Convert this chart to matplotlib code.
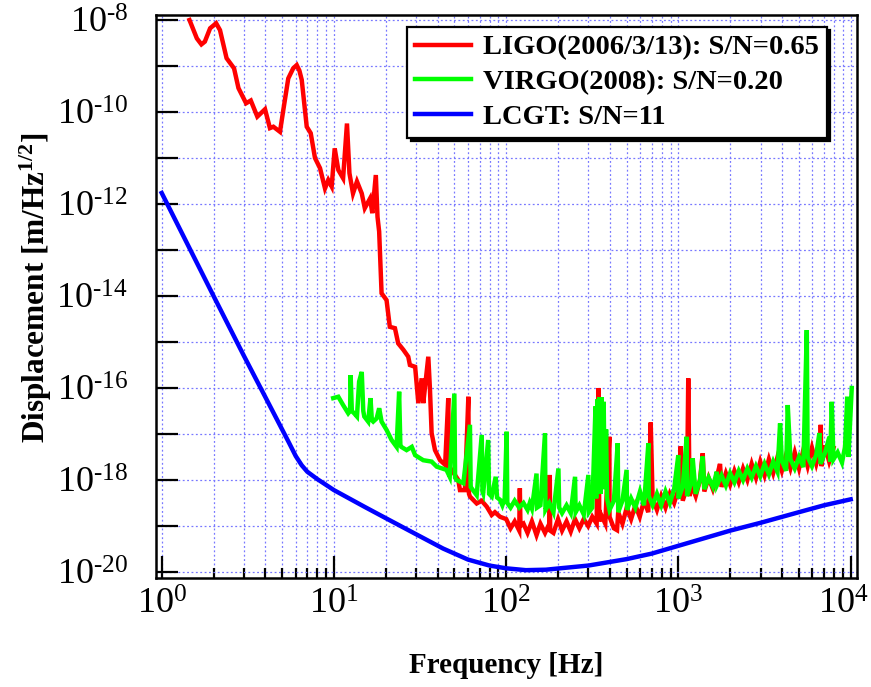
import numpy as np
import matplotlib
matplotlib.use("Agg")
import matplotlib.pyplot as plt
from matplotlib.transforms import ScaledTranslation
from matplotlib.ticker import FixedLocator, FuncFormatter, NullLocator, LogLocator, NullFormatter

# ---------------- data ----------------
# LIGO (2006/3/13): frequency [Hz] and log10 of displacement [m/Hz^1/2]
ligo_freq = [1.45, 1.60, 1.70, 1.78, 1.91, 2.07, 2.18, 2.38, 2.63, 2.79, 3.09, 3.29, 3.59, 3.98,
             4.25, 4.45, 4.86, 5.08, 5.43, 5.80, 6.08, 6.30, 6.50, 6.95, 7.33, 7.76, 8.30, 8.87,
             9.27, 9.70, 10.1, 10.6, 11.3, 11.9, 12.3, 12.9, 13.6, 14.5, 15.1, 16.2, 16.7, 17.5,
             17.9, 18.3, 18.6, 18.9, 20.2, 21.1, 22.6, 23.6, 25.3, 27.0, 27.6, 29.6, 30.9, 32.3,
             33.0, 35.3, 36.1, 36.9, 38.6, 41.3, 44.2, 46.1, 46.5, 48.2, 52.7, 53.9, 57.6, 60.3,
             60.8, 61.6, 67.4, 72.0, 77.1, 82.4, 86.0, 92.1,
             100, 106, 112, 119, 120, 121, 126, 133, 141, 150, 158, 168, 178, 179, 180, 188,
             200, 211, 224, 237, 251, 266, 282, 299, 316, 335, 343, 347, 355, 376, 397, 398,
             422, 440, 447, 473, 501, 531, 562, 596, 631, 668, 690, 708, 750, 794, 841, 891,
             944, 1000, 1030, 1059, 1122, 1140, 1160, 1189, 1259, 1334, 1383, 1413, 1496, 1585,
             1679, 1743, 1778, 1884, 1995, 2113, 2239, 2371, 2512, 2661, 2818, 2985, 3162, 3350,
             3548, 3758, 3981, 4217, 4467, 4732, 5012, 5309, 5623, 5957, 6310, 6683, 6700, 6750,
             7079, 7499, 7943]
ligo_exp = [-8.00, -8.40, -8.53, -8.47, -8.18, -8.07, -8.22, -8.83, -9.05, -9.48, -9.81, -9.75,
            -10.10, -9.94, -10.35, -10.32, -10.43, -9.96, -9.27, -9.05, -8.98, -9.10, -9.30,
            -10.32, -10.46, -11.00, -11.22, -11.66, -11.48, -11.62, -10.79, -11.26, -11.44,
            -10.25, -11.33, -11.77, -11.51, -11.77, -12.09, -11.88, -12.20, -11.37, -12.28,
            -12.60, -13.30, -13.94, -14.09, -14.67, -14.70, -15.03, -15.17, -15.32, -15.50,
            -15.54, -16.33, -15.79, -16.33, -15.32, -16.04, -16.98, -17.35, -17.57, -17.67,
            -16.22, -17.70, -17.78, -18.00, -18.22, -18.22, -16.19, -18.30, -18.36, -18.51,
            -18.45, -18.58, -18.76, -18.70, -18.80,
            -18.85, -19.05, -18.90, -19.10, -18.18, -19.00, -18.95, -19.15, -18.90, -19.20,
            -18.95, -19.15, -18.95, -17.89, -19.10, -19.15,
            -18.85, -19.10, -18.90, -19.12, -18.85, -19.05, -18.85, -19.00, -18.80, -18.95,
            -16.00, -18.90, -18.75, -18.95, -17.06, -18.80,
            -19.05, -19.09, -18.70, -18.95, -18.60, -18.85, -18.55, -18.80, -18.45, -18.70,
            -16.75, -18.40, -18.65, -18.35, -18.60, -18.30,
            -18.50, -18.20, -17.27, -18.45, -18.15, -15.79, -18.35, -18.10, -18.35, -18.00,
            -17.42, -18.25, -17.95, -18.20,
            -17.90, -17.65, -18.15, -17.85, -18.10, -17.80, -18.05, -17.75, -18.00, -17.65,
            -17.95, -17.60, -17.90, -17.55,
            -17.85, -17.50, -17.80, -17.45, -17.75, -17.40, -17.75, -17.35, -17.70, -17.30,
            -17.65, -17.30, -16.80, -17.70,
            -17.25, -17.60, -17.30]

# VIRGO (2008)
virgo_freq = [9.9, 10.6, 11.3, 12.1, 12.4, 12.5, 12.7, 13.1, 13.6, 14.0, 14.5, 14.8, 15.0, 15.8,
              16.3, 16.6, 16.9, 17.7, 18.3, 18.9, 20.2, 21.6, 23.1, 23.9, 24.3, 24.6, 26.4, 28.3,
              29.6, 33.0, 36.9, 39.5, 45.0, 47.0, 50.0, 50.5, 51.5, 56.4, 61.6, 62.2, 63.0, 67.4,
              72.1, 72.8, 73.5, 78.6, 79.5, 82.4, 86.9, 88.5, 92.0, 95.0, 98.0,
              100.6, 101.5, 106, 112, 119, 126, 133, 137, 141, 150, 151, 158, 168, 169, 178, 188,
              201, 203, 211, 224, 237, 251, 253, 266, 282, 300, 302, 316, 330, 333, 338, 342,
              348, 353, 358, 363, 368, 373, 380, 385, 398, 422, 444, 447, 473, 500, 503, 531,
              562, 598, 631, 669, 672, 708, 750, 794, 841, 891, 944, 998, 1000, 1059, 1116,
              1122, 1189, 1210, 1259, 1334, 1383, 1413, 1496, 1585, 1669, 1679, 1778, 1884,
              1995, 2113, 2239, 2371, 2512, 2661, 2818, 2985, 3162, 3350, 3548, 3758, 3890,
              3981, 4217, 4310, 4467, 4732, 5012, 5309, 5560, 5623, 5957, 6310, 6580, 6683,
              7079, 7520, 7600, 7760, 7943, 8400, 8900, 9270, 9550, 9700, 10140]
virgo_exp = [-16.22, -16.19, -16.37, -16.55, -16.50, -15.72, -16.50, -16.55, -16.62, -15.86,
             -15.65, -16.50, -16.62, -16.73, -16.22, -16.70, -16.73, -16.66, -16.44, -16.73,
             -16.91, -17.13, -17.28, -16.08, -17.25, -17.28, -17.35, -17.28, -17.46, -17.57,
             -17.60, -17.71, -17.78, -17.93, -16.12, -17.95, -18.00, -18.07, -16.80, -18.15,
             -18.18, -18.33, -17.02, -18.25, -18.29, -17.13, -18.30, -18.36, -17.93, -18.38,
             -18.43, -18.55, -18.40,
             -16.95, -18.50, -18.60, -18.45, -18.60, -18.50, -18.65, -18.50, -18.62, -17.86,
             -18.60, -18.55, -16.98, -18.65, -18.50, -18.70,
             -17.75, -18.60, -18.72, -18.55, -18.72, -17.93, -18.70, -18.55, -18.75, -17.89,
             -18.70, -18.60, -16.40, -18.40, -16.25, -18.30,
             -16.20, -18.30, -16.20, -18.00, -16.30, -18.20, -16.90, -18.40, -18.65, -18.45,
             -17.20, -18.70, -18.45, -17.78, -18.65, -18.40,
             -18.60, -18.25, -18.55, -17.20, -18.35, -18.55, -18.30, -18.55, -18.25, -18.50,
             -18.20, -17.46, -18.40, -18.15, -17.06,
             -18.35, -18.05, -17.53, -18.30, -18.00, -17.49, -18.20, -17.95, -18.15, -17.82,
             -18.10, -17.90, -18.12,
             -17.85, -18.05, -17.80, -18.00, -17.75, -17.95, -17.70, -17.92, -17.65, -17.88,
             -17.60, -17.82, -16.77,
             -17.58, -17.80, -16.37, -17.55, -17.75, -17.50, -17.72, -14.74, -17.50, -17.70,
             -17.45, -16.98, -17.65,
             -17.42, -17.06, -17.60, -16.30, -17.55, -17.40, -17.62, -17.28, -16.19, -17.50,
             -16.00]

# LCGT design
lcgt_freq = [1, 1.5, 2, 3, 4, 5, 5.5, 6, 6.5, 7, 8, 10, 15, 20, 30, 43, 60, 80, 100, 130,
             170, 205, 300, 500, 700, 1000, 2000, 3000, 5000, 7000, 10000]
lcgt_exp = [-11.76, -13.07, -14.00, -15.30, -16.20, -16.90, -17.20, -17.48, -17.68, -17.82,
            -17.98, -18.22, -18.58, -18.83, -19.18, -19.49, -19.73, -19.86, -19.92, -19.96,
            -19.95, -19.92, -19.86, -19.72, -19.60, -19.43, -19.10, -18.93, -18.70, -18.55,
            -18.42]

series_labels = ["LIGO(2006/3/13): S/N=0.65", "VIRGO(2008): S/N=0.20", "LCGT: S/N=11"]
series_colors = ["#ff0000", "#00ff00", "#0000ff"]

x_label = "Frequency [Hz]"
y_label = r"Displacement [m/Hz$^{\mathbf{1/2}}$]"

# ---------------- style ----------------
plt.rcParams.update({
    "font.family": "Liberation Serif",
    "mathtext.fontset": "custom",
    "mathtext.rm": "Liberation Serif",
    "mathtext.it": "Liberation Serif:italic",
    "mathtext.bf": "Liberation Serif:bold",
})

W, H = 871, 687
fig = plt.figure(figsize=(W / 100, H / 100), dpi=100)
ax = fig.add_axes([156 / W, 1 - 577.7 / H, 700.7 / W, 562.7 / H])

lw = 3.2
for fr, ex, lab, col in zip([ligo_freq, virgo_freq, lcgt_freq],
                            [ligo_exp, virgo_exp, lcgt_exp],
                            series_labels, series_colors):
    ax.plot(fr, np.power(10.0, ex), color=col, lw=lw, label=lab,
            solid_joinstyle="miter", zorder=3)

ax.set_xscale("log")
ax.set_yscale("log")
ax.set_xlim(10 ** -0.0331, 10 ** 4.0348)
ax.set_ylim(10 ** -20.124, 10 ** -7.891)


def expo_label(e):
    s = str(abs(e))
    if e < 0:
        s = "\u2010" + s
    return r"$\mathregular{10^{%s}}$" % s


x_major = [1e0, 1e1, 1e2, 1e3, 1e4]
ax.xaxis.set_major_locator(FixedLocator(x_major))
ax.xaxis.set_minor_locator(LogLocator(base=10, subs=np.arange(2, 10), numticks=20))
ax.xaxis.set_minor_formatter(NullFormatter())
ax.xaxis.set_major_formatter(FuncFormatter(lambda v, p: expo_label(int(round(np.log10(v))))))

ydec = list(range(-20, -7))
ax.yaxis.set_major_locator(FixedLocator([10.0 ** e for e in ydec]))
ax.yaxis.set_minor_locator(NullLocator())


def yfmt(v, p):
    e = int(round(np.log10(v)))
    return expo_label(e) if e % 2 == 0 else ""


ax.yaxis.set_major_formatter(FuncFormatter(yfmt))

ax.tick_params(which="major", direction="in", length=16, width=1.6, labelsize=26,
               top=False, right=False)
ax.tick_params(which="minor", direction="in", length=7.5, width=1.6, top=False, right=False)
ax.tick_params(axis="x", which="major", pad=8)
ax.tick_params(axis="y", which="major", pad=20)

# keep the rightmost x tick label inside the figure
last = ax.xaxis.get_major_ticks(len(x_major))[-1]
last.label1.set_transform(last.label1.get_transform()
                          + ScaledTranslation(-7 / 100, 0, fig.dpi_scale_trans))

grid_kw = dict(color="#7878ff", linestyle=(0, (1.5, 2.0)), linewidth=0.9)
ax.grid(True, which="major", axis="both", **grid_kw)
ax.grid(True, which="minor", axis="x", **grid_kw)
ax.set_axisbelow(True)

for s in ax.spines.values():
    s.set_linewidth(1.8)

ax.set_xlabel(x_label, fontsize=21, fontweight="bold", labelpad=22)
ax.set_ylabel(y_label, fontsize=22.5, fontweight="bold")
ax.yaxis.set_label_coords(-0.146, 0.515)

leg = ax.legend(loc="upper right", bbox_to_anchor=(0.9576, 0.9787), borderaxespad=0,
                prop={"family": "Liberation Serif", "weight": "bold", "size": 20.5},
                frameon=True, fancybox=False, handlelength=1.95, handletextpad=0.45,
                labelspacing=0.31, borderpad=0.27,
                shadow={"color": "black", "alpha": 1.0, "ox": 2.5, "oy": -2.5})
leg.get_frame().set_edgecolor("black")
leg.get_frame().set_linewidth(1.6)
for h in leg.get_lines():
    h.set_linewidth(3.2)

fig.savefig("out.png", dpi=100)
